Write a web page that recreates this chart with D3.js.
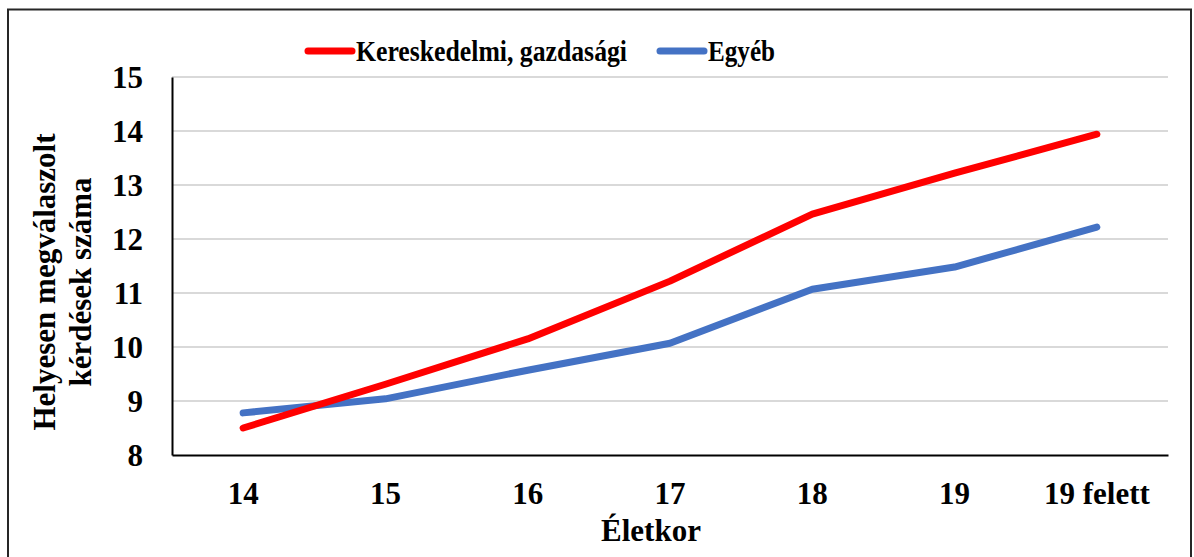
<!DOCTYPE html>
<html>
<head>
<meta charset="utf-8">
<script src="https://cdn.jsdelivr.net/npm/d3@7"></script>
<style>
  body { margin: 0; background: #fff; }
  svg text { font-family: "Liberation Serif", "Times New Roman", serif; font-weight: bold; fill: #000; }
</style>
</head>
<body>
<svg id="chart" width="1194" height="557"></svg>
<script>
var categories = ["14", "15", "16", "17", "18", "19", "19 felett"];
var kereskedelmi = [8.5, 9.31, 10.15, 11.22, 12.46, 13.22, 13.94];
var egyeb = [8.78, 9.04, 9.57, 10.07, 11.07, 11.48, 12.22];
var yTicks = [8, 9, 10, 11, 12, 13, 14, 15];
var seriesNames = ["Kereskedelmi, gazdasági", "Egyéb"];
var seriesColors = ["#ff0000", "#4472c4"];

var svg = d3.select("#chart");

// outer frame
svg.append("rect")
    .attr("x", 8).attr("y", 9.5)
    .attr("width", 1183).attr("height", 600)
    .attr("fill", "none")
    .attr("stroke", "#262626")
    .attr("stroke-width", 2);

var plotLeft = 172, plotRight = 1168, plotTop = 77, plotBottom = 455;

var x = d3.scaleBand().domain(categories).range([plotLeft, plotRight]);
var y = d3.scaleLinear().domain([8, 15]).range([plotBottom, plotTop]);

// gridlines
svg.append("g").selectAll("line")
    .data(yTicks.slice(1))
    .enter().append("line")
    .attr("x1", plotLeft).attr("x2", plotRight)
    .attr("y1", function(d) { return y(d); })
    .attr("y2", function(d) { return y(d); })
    .attr("stroke", "#d9d9d9")
    .attr("stroke-width", 2);

// y axis
var yAxis = svg.append("g")
    .attr("transform", "translate(" + plotLeft + ",0)")
    .call(d3.axisLeft(y).tickValues(yTicks).tickFormat(d3.format("d")).tickSize(0).tickPadding(29));
yAxis.attr("font-family", null).attr("font-size", null);
yAxis.select(".domain").attr("stroke", "#000").attr("stroke-width", 2);
yAxis.selectAll("text").style("font-size", "31px").attr("dy", "0.35em");

// x axis
var xAxis = svg.append("g")
    .attr("transform", "translate(0," + plotBottom + ")")
    .call(d3.axisBottom(x).tickSize(0).tickPadding(27));
xAxis.attr("font-family", null).attr("font-size", null);
xAxis.select(".domain").attr("stroke", "#000").attr("stroke-width", 2);
xAxis.selectAll("text").style("font-size", "31px");

// lines
var line = d3.line()
    .x(function(d, i) { return x(categories[i]) + x.bandwidth() / 2; })
    .y(function(d) { return y(d); });

[egyeb, kereskedelmi].forEach(function(vals, k) {
    svg.append("path")
        .datum(vals)
        .attr("d", line)
        .attr("fill", "none")
        .attr("stroke", k == 0 ? seriesColors[1] : seriesColors[0])
        .attr("stroke-width", 7)
        .attr("stroke-linecap", "round")
        .attr("stroke-linejoin", "round");
});

// legend
var legendX = [308, 660];
var legendW = [271, 67];
seriesNames.forEach(function(name, i) {
    var g = svg.append("g").attr("transform", "translate(" + legendX[i] + ",51)");
    g.append("line")
        .attr("x1", 0).attr("x2", 44)
        .attr("stroke", seriesColors[i])
        .attr("stroke-width", 7)
        .attr("stroke-linecap", "round");
    g.append("text")
        .attr("x", 48).attr("y", 10)
        .attr("textLength", legendW[i])
        .attr("lengthAdjust", "spacingAndGlyphs")
        .style("font-size", "30px")
        .text(name);
});

// axis titles
svg.append("text")
    .attr("x", 651).attr("y", 541)
    .attr("text-anchor", "middle")
    .style("font-size", "31px")
    .text("Életkor");

var yt = svg.append("text")
    .attr("transform", "translate(0,282) rotate(-90)")
    .attr("text-anchor", "middle")
    .style("font-size", "31px");
yt.append("tspan").attr("x", 0).attr("y", 55).text("Helyesen megválaszolt");
yt.append("tspan").attr("x", 0).attr("y", 91).text("kérdések száma");
</script>
</body>
</html>
